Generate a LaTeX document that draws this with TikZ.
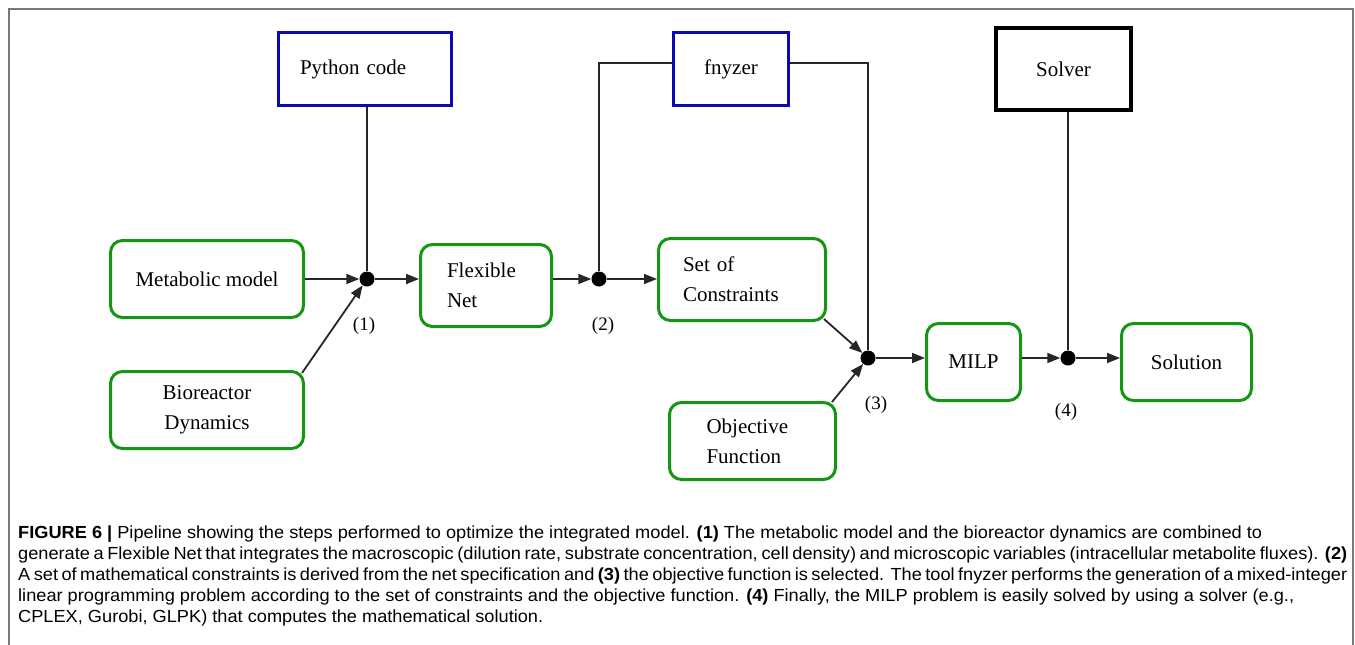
\documentclass[tikz,border=0pt]{standalone}
\usepackage{fontspec}
\setmainfont{Liberation Serif}
\newfontfamily\capfont[FakeStretch=1.04]{Liberation Sans}
\usetikzlibrary{arrows.meta}
\definecolor{boxgreen}{RGB}{20,150,20}
\definecolor{boxblue}{RGB}{10,10,180}
\definecolor{framegray}{RGB}{120,120,120}
\begin{document}
\begin{tikzpicture}[x=1pt,y=-1pt,
  boxfont/.style={font=\fontsize{21}{30}\selectfont},
  gbox/.style={draw=boxgreen, line width=3pt, rounded corners=12pt, inner sep=0pt, boxfont},
  bbox/.style={draw=boxblue, line width=3pt, inner sep=0pt, boxfont},
  kbox/.style={draw=black, line width=3.5pt, inner sep=0pt, boxfont},
  jdot/.style={circle, fill=black, minimum size=15pt, inner sep=0pt},
  conn/.style={line width=1.8pt, draw=black!85},
  arr/.style={conn, -{Triangle[length=13pt,width=10pt]}},
  lbl/.style={font=\fontsize{19}{19}\selectfont},
  capline/.style={anchor=base west, inner sep=0pt, font=\capfont\fontsize{17.5}{17.5}\selectfont}
]
\useasboundingbox (0,0) rectangle (1355,645);
% frame
\draw[framegray, line width=1.2pt] (9,645) -- (9,9) -- (1353,9) -- (1353,645);

% top boxes
\node[bbox, minimum width=173pt, minimum height=73pt, text width=130pt, align=left] (py) at (365,69) {Python code};
\node[bbox, minimum width=115pt, minimum height=73pt] (fn) at (731,69) {fnyzer};
\node[kbox, minimum width=135pt, minimum height=82pt] (sv) at (1063.5,69) {Solver};

% green boxes
\node[gbox, minimum width=193pt, minimum height=77pt] (meta) at (207,279) {Metabolic model};
\node[gbox, minimum width=193pt, minimum height=77pt, align=center] (bio) at (207,410) {Bioreactor\\Dynamics};
\node[gbox, minimum width=131pt, minimum height=82pt, text width=78pt, align=left] (flex) at (486,285.5) {Flexible\\Net};
\node[gbox, minimum width=167pt, minimum height=82pt, text width=118pt, align=left] (soc) at (742,279.5) {Set of\\Constraints};
\node[gbox, minimum width=166pt, minimum height=77pt, text width=92pt, align=left] (obj) at (752.5,441) {Objective\\Function};
\node[gbox, minimum width=94pt, minimum height=77pt] (milp) at (973.5,362) {MILP};
\node[gbox, minimum width=130pt, minimum height=77pt] (sol) at (1186.5,362) {Solution};

% junctions
\node[jdot] (d1) at (367,279) {};
\node[jdot] (d2) at (599,279) {};
\node[jdot] (d3) at (868,358) {};
\node[jdot] (d4) at (1068,358) {};

% labels
\node[lbl] (l1) at (364,326) {(1)};
\node[lbl] (l2) at (603,326) {(2)};
\node[lbl] (l3) at (876,405) {(3)};
\node[lbl] (l4) at (1066,412) {(4)};

% connectors
\draw[arr] (meta.east |- d1) -- (d1);
\draw[arr] ([xshift=-3pt,yshift=-3pt]bio.north east) -- (d1);
\draw[conn] (d1 |- py.south) -- (d1);
\draw[arr] (d1) -- (d1 -| flex.west);
\draw[arr] (flex.east |- d2) -- (d2);
\draw[conn] (d2) |- ([yshift=6pt]fn.west);
\draw[conn] ([yshift=6pt]fn.east) -| (d3);
\draw[arr] (d2) -- (d2 -| soc.west);
\draw[arr] ([xshift=-3pt,yshift=3pt]soc.south east) -- (d3);
\draw[arr] ([xshift=-5pt,yshift=-1pt]obj.north east) -- (d3);
\draw[arr] (d3) -- (d3 -| milp.west);
\draw[arr] (milp.east |- d4) -- (d4);
\draw[conn] (d4 |- sv.south) -- (d4);
\draw[arr] (d4) -- (d4 -| sol.west);

% caption
\node[capline] (c1) at (18,538) {\textbf{FIGURE 6 |} Pipeline showing the steps performed to optimize the integrated model. \textbf{(1)} The metabolic model and the bioreactor dynamics are combined to};
\node[capline] (c2) at (18,559) {\makebox[1329pt][s]{generate a Flexible Net that integrates the macroscopic (dilution rate, substrate concentration, cell density) and microscopic variables (intracellular metabolite fluxes). \textbf{(2)}}};
\node[capline] (c3) at (18,580) {\makebox[1329pt][s]{A set of mathematical constraints is derived from the net specification and \textbf{(3)} the objective function is selected. The tool fnyzer performs the generation of a mixed-integer}};
\node[capline] (c4) at (18,601) {linear programming problem according to the set of constraints and the objective function. \textbf{(4)} Finally, the MILP problem is easily solved by using a solver (e.g.,};
\node[capline] (c5) at (18,622) {CPLEX, Gurobi, GLPK) that computes the mathematical solution.};
\end{tikzpicture}
\end{document}
